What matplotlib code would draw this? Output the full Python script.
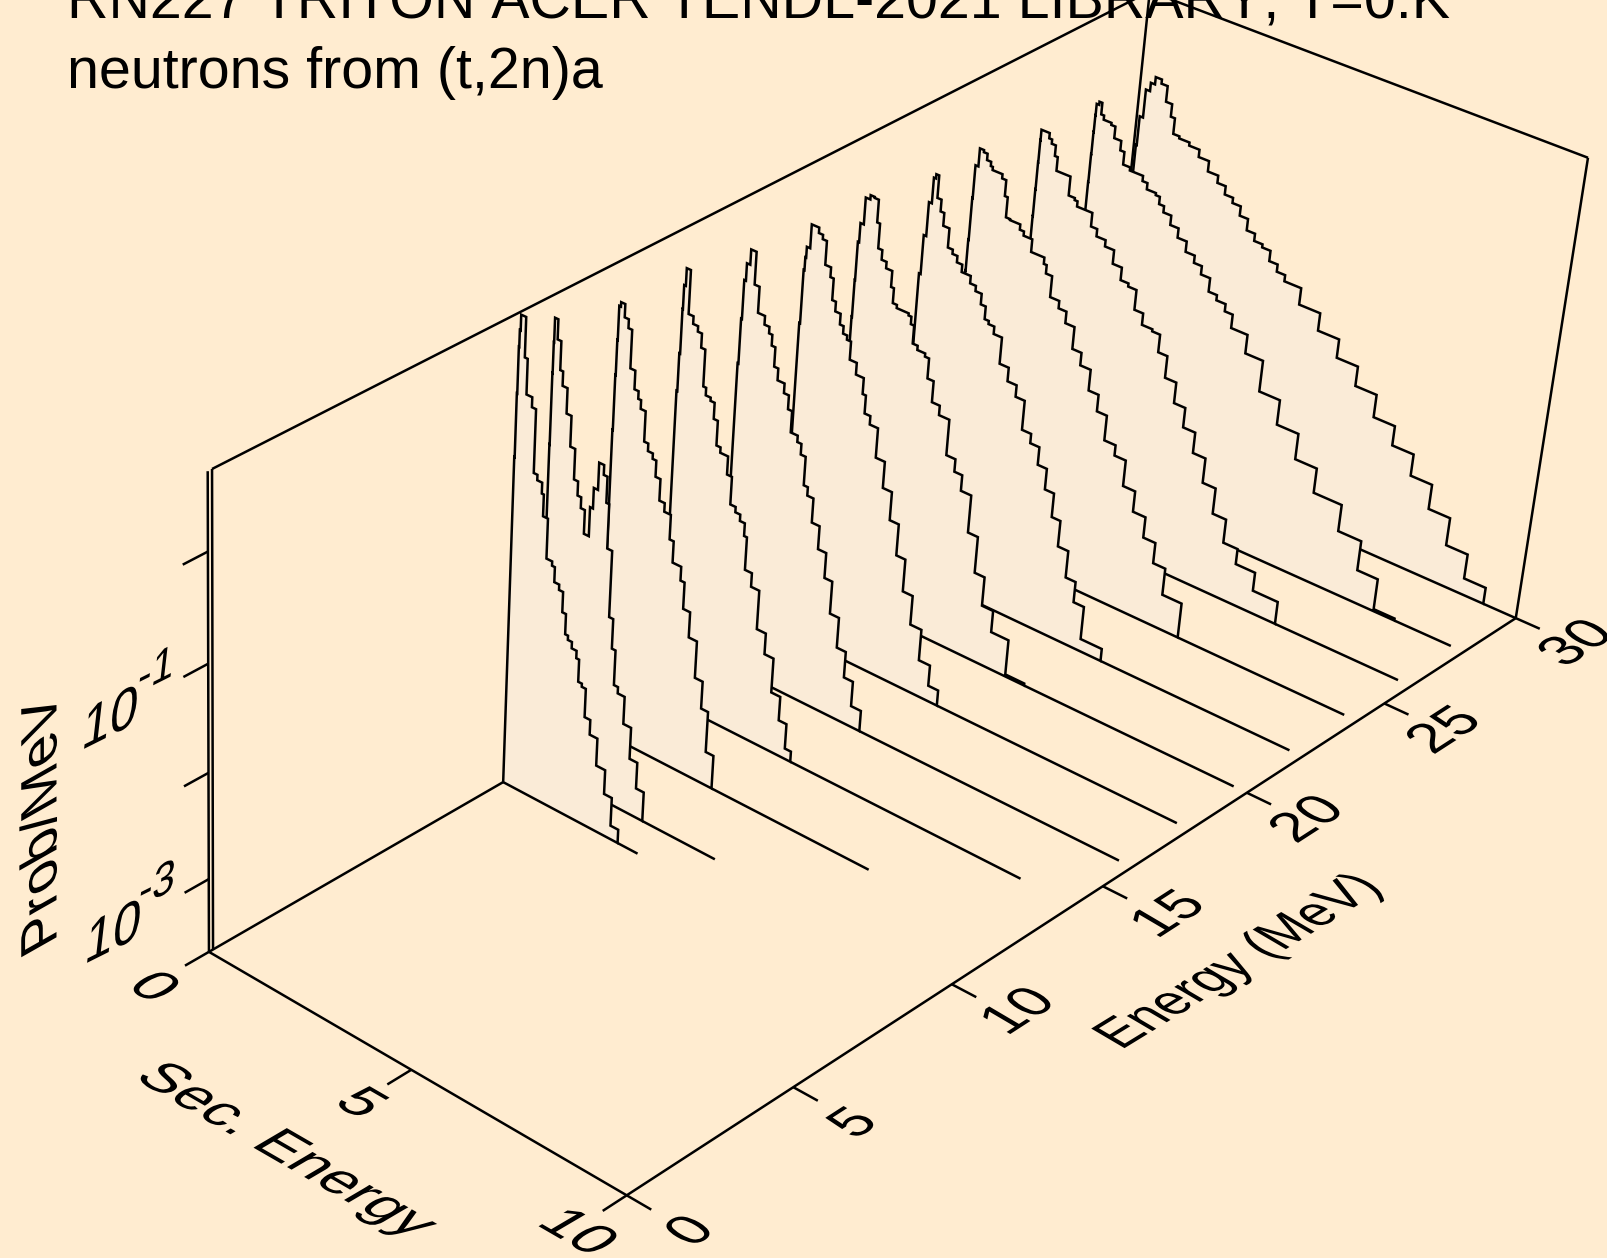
#!/usr/bin/env python
"""Stack of secondary neutron spectra on a perspective box (log z), drawn in pixel axes."""
import numpy as np
import matplotlib
matplotlib.use("Agg")
import matplotlib.pyplot as plt
from matplotlib.patches import Polygon
from matplotlib.patheffects import AbstractPathEffect
from matplotlib.transforms import Affine2D

plt.rcParams['font.family'] = ['Liberation Sans', 'DejaVu Sans']
plt.rcParams['text.kerning_factor'] = 16

TITLE_1 = "RN227 TRITON ACER TENDL-2021 LIBRARY, T=0.K"
TITLE_2 = "neutrons from (t,2n)a"

E_TICKS = [0, 5, 10, 15, 20, 25, 30]
ES_TICKS = [0, 5, 10]
Z_TICKS = [-3, -2, -1, 0]
LOG_MIN, LOG_MAX = -3.7, 0.7

# incident energies (MeV), back to front order is reversed at draw time
ENERGIES = [9, 10, 12, 14, 16, 18, 20, 22, 24, 26, 28, 30]
# where each zero baseline stops on the secondary energy axis
BASE_END = [3.35, 4.47, 6.67, 8.8, 9.7, 9.7, 9.7, 9.7, 9.7, 9.7, 9.7, 10.0]

ES_09 = [0, .01, .02, .03, .05, .17, .24, .38, .48, .57, .69, .74, .86, 1.0, 1.07, 1.19, 1.29, 1.38, 1.45,
         1.55, 1.67, 1.74, 1.83, 1.93, 2.07, 2.26, 2.48, 2.67, 2.86]
LOG_09 = [-.6, -.02, .40, .55, .69, .33, .01, -.08, -.66, -.71, -.81, -1.01, -1.38, -1.42, -1.56, -1.61,
          -1.80, -1.99, -2.03, -2.09, -2.16, -2.37, -2.40, -2.67, -2.81, -3.07, -3.30, -3.57]

ES_10 = [.07, .076, .082, .09, .17, .26, .33, .45, .57, .69, .79, .88, .98, 1.10, 1.17, 1.27, 1.39, 1.48, 1.55,
         1.67, 1.77, 1.86, 1.96, 2.13, 2.32, 2.51, 2.70]
LOG_10 = [-.63, .02, .30, .52, .34, .08, -.05, -.28, -.56, -.84, -.97, -1.07, -1.29, -1.02, -.83, -.58,
          -.67, -.91, -1.32, -1.94, -2.22, -2.55, -2.61, -2.87, -3.17, -3.42]

ES_12 = [.07, .08, .09, .10, .14, .24, .34, .43, .55, .65, .72, .84, .94, 1.06, 1.15, 1.27, 1.40, 1.56, 1.66,
         1.87, 1.97, 2.14, 2.34, 2.53, 2.70, 2.89]
LOG_12 = [-.81, -.30, .02, .33, .37, .25, .17, -.18, -.35, -.42, -.50, -.78, -.85, -.90, -1.05, -1.25,
          -1.33, -1.56, -1.76, -1.89, -2.14, -2.38, -2.73, -2.99, -3.38]

ES_14 = [.10, .12, .14, .15, .19, .29, .41, .53, .63, .73, .80, .92, 1.02, 1.12, 1.22, 1.41, 1.53, 1.66, 1.78,
         1.90, 1.97, 2.14, 2.34, 2.56, 2.78, 3.0, 3.19, 3.34]
LOG_14 = [-.75, -.40, .01, .23, .39, -.01, -.08, -.13, -.26, -.60, -.67, -.70, -.85, -1.08, -1.13, -1.30,
          -1.56, -1.61, -1.67, -1.79, -2.10, -2.23, -2.60, -2.80, -3.13, -3.36, -3.6]

ES_16 = [.10, .12, .14, .18, .26, .39, .51, .68, .80, .88, .97, 1.07, 1.24, 1.36, 1.46, 1.63, 1.73, 1.85, 1.95,
         2.10, 2.29, 2.49, 2.68, 2.90, 3.12, 3.34, 3.58]
LOG_16 = [-.80, -.38, -.02, .14, .28, -.02, -.26, -.34, -.40, -.50, -.68, -.79, -.88, -1.01, -1.21, -1.27,
          -1.37, -1.64, -1.72, -1.95, -2.17, -2.41, -2.72, -3.01, -3.26, -3.50]

ES_18 = [.12, .14, .16, .18, .26, .44, .54, .64, .78, .86, .95, 1.08, 1.17, 1.27, 1.37, 1.54, 1.73, 1.81, 1.95,
         2.15, 2.37, 2.59, 2.81, 3.03, 3.27, 3.54, 3.81, 4.05]
LOG_18 = [-.72, -.22, -.10, .0, .22, .17, .13, -.09, -.18, -.38, -.47, -.57, -.64, -.68, -.85, -.96,
          -1.11, -1.28, -1.36, -1.64, -1.89, -2.16, -2.46, -2.77, -3.05, -3.35, -3.55]

ES_20 = [0, .01, .02, .05, .13, .24, .34, .44, .51, .61, .73, .88, .95, 1.05, 1.34, 1.41, 1.49, 1.61, 1.80, 1.90,
         2.05, 2.24, 2.49, 2.71, 2.90, 3.15, 3.39, 3.63, 3.90, 4.32, 4.78]
LOG_20 = [-.98, -.63, -.27, -.09, .16, .20, .19, -.02, -.25, -.34, -.40, -.55, -.69, -.72, -.74, -.81, -.98,
          -1.02, -1.05, -1.24, -1.44, -1.53, -1.87, -1.99, -2.14, -2.50, -2.85, -3.13, -3.34, -3.68]

ES_22 = [.20, .24, .30, .37, .42, .49, .59, .68, .83, .95, 1.07, 1.2, 1.42, 1.56, 1.71, 1.83, 1.93, 2.07, 2.27,
         2.49, 2.71, 2.93, 3.15, 3.37, 3.59, 3.81, 4.02, 4.27, 4.51, 4.76, 5.27]
LOG_22 = [-.83, -.46, -.14, .10, .14, -.07, -.18, -.30, -.48, -.52, -.58, -.65, -.72, -.77, -.87, -.99,
          -1.02, -1.09, -1.34, -1.47, -1.58, -1.86, -1.95, -2.12, -2.32, -2.55, -2.80, -3.06, -3.26, -3.58]

ES_24 = [.0, .01, .02, .03, .10, .20, .29, .39, .44, .68, .78, .85, .95, 1.2, 1.3, 1.51, 1.83, 1.90, 2.05, 2.27,
         2.46, 2.68, 2.90, 3.15, 3.39, 3.63, 3.90, 4.17, 4.46, 4.76, 5.05, 5.34, 5.80]
LOG_24 = [-1.13, -.83, -.43, -.12, .05, .03, -.03, -.07, -.10, -.14, -.29, -.48, -.49, -.54, -.58, -.70, -.76,
          -.84, -1.04, -1.11, -1.22, -1.43, -1.55, -1.75, -1.91, -2.15, -2.25, -2.50, -2.70, -2.90, -3.10, -3.36]

ES_26 = [.22, .225, .23, .235, .24, .44, .51, .61, .68, 1.02, 1.17, 1.24, 1.61, 1.76, 1.98, 2.2, 2.42, 2.61, 2.81,
         3.02, 3.27, 3.46, 3.68, 3.95, 4.22, 4.51, 4.81, 5.12, 5.44, 5.78, 6.24, 6.83]
LOG_26 = [-.86, -.60, -.34, -.13, -.03, -.08, -.12, -.22, -.35, -.53, -.55, -.60, -.73, -.80, -.86, -.99,
          -1.11, -1.14, -1.33, -1.44, -1.46, -1.63, -1.84, -2.04, -2.23, -2.43, -2.67, -2.92, -3.15, -3.30,
          -3.48]

ES_28 = [.22, .225, .23, .235, .24, .3, .37, .44, .63, .73, .9, 1, 1.17, 1.49, 1.61, 1.83, 1.93, 2.05, 2.24,
         2.44, 2.66, 2.88, 3.07, 3.29, 3.49, 3.71, 3.9, 4.29, 4.71, 5.2, 5.71, 6.22, 6.88, 7.42, 7.9, 8.39]
LOG_28 = [-.81, -.54, -.33, -.17, -.06, -.03, -.14, -.18, -.20, -.31, -.40, -.52, -.55, -.60, -.66, -.68,
          -.75, -.81, -.90, -.99, -1.09, -1.16, -1.24, -1.37, -1.42, -1.49, -1.62, -1.80, -2.10, -2.34,
          -2.59, -2.83, -3.09, -3.38, -3.68]

ES_30 = [.05, .07, .15, .25, .35, .5, .65, .8, .9, 1.05, 1.3, 1.55, 1.8, 2.05, 2.25, 2.45, 2.65, 2.85, 3.05, 3.25,
         3.45, 3.65, 3.85, 4.25, 4.75, 5.25, 5.75, 6.25, 6.75, 7.25, 7.75, 8.25, 8.75, 9.25]
LOG_30 = [-.76, -.48, -.21, -.13, -.06, -.10, -.25, -.37, -.52, -.54, -.57, -.64, -.74, -.81, -.89, -.94,
          -1.03, -1.14, -1.21, -1.24, -1.34, -1.41, -1.47, -1.63, -1.80, -1.98, -2.17, -2.39, -2.58, -2.79,
          -3.03, -3.30, -3.54]

SPECTRA = [(ES_09, LOG_09), (ES_10, LOG_10), (ES_12, LOG_12), (ES_14, LOG_14), (ES_16, LOG_16), (ES_18, LOG_18),
           (ES_20, LOG_20), (ES_22, LOG_22), (ES_24, LOG_24), (ES_26, LOG_26), (ES_28, LOG_28), (ES_30, LOG_30)]

BG = "#FFECD0"
FILL = "#FAEBD7"
W, H = 1607, 1258
LW = 1.8

# box corners on the canvas: (Es/10, E/30, z) -> pixel
CORNERS = [((0, 0, 0), (209, 953)), ((1, 0, 0), (627, 1194)), ((1, 1, 0), (1517, 618)), ((0, 1, 0), (1102, 436)),
           ((0, 0, 1), (208, 469)), ((1, 0, 1), (652, 700)), ((1, 1, 1), (1587, 157)), ((0, 1, 1), (1151, -8))]


def fit_camera(pairs):
    rows = []
    for (x, y, z), (u, v) in pairs:
        rows.append([x, y, z, 1, 0, 0, 0, 0, -u * x, -u * y, -u * z, -u])
        rows.append([0, 0, 0, 0, x, y, z, 1, -v * x, -v * y, -v * z, -v])
    return np.linalg.svd(np.array(rows, float))[2][-1].reshape(3, 4)


CAM = fit_camera(CORNERS)


def proj(es, e, logp=LOG_MIN):
    """secondary energy, incident energy, log10(prob) -> canvas pixels"""
    es, e, logp = np.broadcast_arrays(np.asarray(es, float), np.asarray(e, float), np.asarray(logp, float))
    z = (logp - LOG_MIN) / (LOG_MAX - LOG_MIN)
    p = np.stack([es / 10, e / 30, z, np.ones_like(z)], axis=-1) @ CAM.T
    return p[..., :2] / p[..., 2:]


class PlaneText(AbstractPathEffect):
    """lays a text on one of the box planes: ex, ey are the screen images of its baseline and up vectors"""

    def __init__(self, ex, ey, anchor):
        super().__init__()
        self.m = Affine2D.from_values(ex[0], ex[1], ey[0], ey[1], 0, 0)
        self.anchor = anchor

    def draw_path(self, renderer, gc, tpath, affine, rgbFace=None):
        ax_, ay_ = self.anchor
        t = affine + Affine2D().translate(-ax_, -ay_) + self.m + Affine2D().translate(ax_, ay_)
        renderer.draw_path(gc, tpath, t, rgbFace)


def plane_text(ax, x, y, s, ex, ey, size=41):
    t = ax.text(x, y, s, fontsize=size, ha="center", va="center", color="k", zorder=200)
    t.set_path_effects([PlaneText(ex, ey, ax.transData.transform((x, y)))])
    return t


def line(ax, pts, z=1):
    pts = np.asarray(pts)
    ax.plot(pts[:, 0], pts[:, 1], color="k", lw=LW, zorder=z, solid_joinstyle="miter", solid_capstyle="butt")


def main():
    fig = plt.figure(figsize=(W / 100, H / 100), dpi=100, facecolor=BG)
    ax = fig.add_axes([0, 0, 1, 1])
    ax.set_xlim(0, W)
    ax.set_ylim(H, 0)
    ax.axis("off")

    # box
    for a, b in [((0, 0, LOG_MIN), (10, 0, LOG_MIN)), ((10, 0, LOG_MIN), (10, 30, LOG_MIN)),
                 ((0, 0, LOG_MIN), (0, 30, LOG_MIN)), ((10, 30, LOG_MIN), (10, 30, LOG_MAX)),
                 ((0, 30, LOG_MIN), (0, 30, LOG_MAX)), ((0, 0, LOG_MIN), (0, 0, LOG_MAX)),
                 ((0, 0.12, LOG_MIN), (0, 0.12, LOG_MAX)), ((0, 0.12, LOG_MAX), (0, 30, LOG_MAX)),
                 ((0, 30, LOG_MAX), (10, 30, LOG_MAX))]:
        line(ax, [proj(*a), proj(*b)])

    # ticks
    for e in E_TICKS:
        line(ax, [proj(10, e), proj(10.55, e)])
    for es in ES_TICKS:
        line(ax, [proj(es, 0), proj(es, -0.7)])
    for lg in Z_TICKS:
        line(ax, [proj(0, 0, lg), proj(0, -0.7, lg)])

    # spectra, far ones first so the near ones cover them
    for i in range(len(ENERGIES) - 1, -1, -1):
        e = ENERGIES[i]
        edges, vals = SPECTRA[i]
        es_pts = [edges[0]]
        lg_pts = [LOG_MIN]
        for k, v in enumerate(vals):
            es_pts += [edges[k], edges[k + 1]]
            lg_pts += [v, v]
        es_pts.append(edges[-1])
        lg_pts.append(LOG_MIN)
        poly = proj(np.array(es_pts), e, np.array(lg_pts))
        zo = 10 + 2 * (len(ENERGIES) - i)
        ax.add_patch(Polygon(poly, closed=True, facecolor=FILL, edgecolor="k", lw=LW, zorder=zo,
                             joinstyle="miter"))
        line(ax, [proj(edges[-1], e), proj(BASE_END[i], e)], z=zo + 1)

    # text (screen vectors have y pointing up)
    ax.text(67, 18.5, TITLE_1, fontsize=41.3, ha="left", va="baseline", zorder=5)
    ax.text(67, 87.5, TITLE_2, fontsize=41.3, ha="left", va="baseline", zorder=5)

    z_ex, z_ey = (.88, .44), (.12, 1.05)
    for x, y, sx, sy, tick in [(110, 721, 156, 672, "-1"), (113, 935, 157, 886, "-3")]:
        plane_text(ax, x, y, "10", z_ex, z_ey)
        plane_text(ax, sx, sy, tick, z_ex, z_ey, size=33)
    plane_text(ax, 43, 823, "Prob/MeV", (0, 1), (-.9, -.51))

    es_ex, es_ey = (.9, -.52), (.85, .5)
    for (x, y), s in zip([(152, 988), (359, 1104), (576, 1233)], ES_TICKS):
        plane_text(ax, x, y, str(s), es_ex, es_ey)
    plane_text(ax, 285, 1151, "Sec. Energy", es_ex, es_ey)

    e_ex, e_ey = (.82, .53), (-.85, .5)
    for (x, y), s in zip([(692, 1232), (855, 1124), (1020, 1012), (1170, 915), (1309, 820), (1446, 731), (1578, 644)],
                         E_TICKS):
        plane_text(ax, x, y, str(s), e_ex, e_ey)
    plane_text(ax, 1240, 962, "Energy (MeV)", (.75, .46), (-.85, .5))

    fig.savefig("out.png", dpi=100, facecolor=BG)


if __name__ == "__main__":
    main()
